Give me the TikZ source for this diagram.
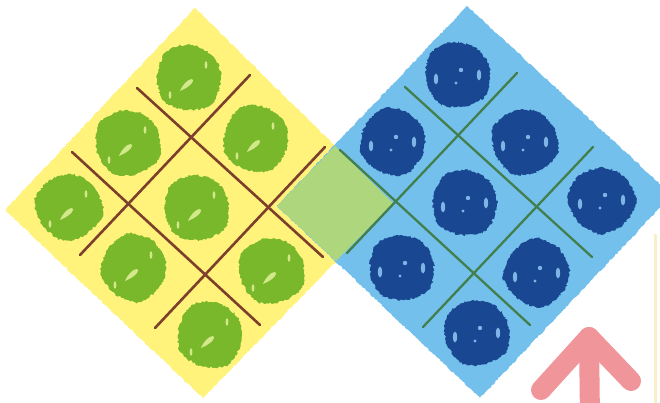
\documentclass[tikz,border=0pt]{standalone}
\usetikzlibrary{decorations.pathmorphing}
\definecolor{yel}{HTML}{FFF37C}
\definecolor{sky}{HTML}{72C0EB}
\definecolor{ovl}{HTML}{AED67C}
\definecolor{gblobc}{HTML}{78B82A}
\definecolor{bblobc}{HTML}{1A4791}
\definecolor{ghlc}{HTML}{D2E88A}
\definecolor{bhlc}{HTML}{7DB6E6}
\definecolor{brownline}{HTML}{7D3F2B}
\definecolor{greenline}{HTML}{437F4D}
\definecolor{pinkc}{HTML}{F0959A}
\definecolor{paley}{HTML}{F8F1C6}
\newcommand\myblob[4]{%
\begin{scope}[shift={(#1,#2)},rotate=#3]
\fill[#4,fuzzy] plot[smooth cycle] coordinates {(32,0)(24,-22)(2,-33)(-22,-27)(-32,-3)(-26,22)(-3,32)(23,26)};
\end{scope}}
\newcommand\ghl[2]{%
\begin{scope}[shift={(#1,#2)}]
\fill[ghlc] (-9,13) .. controls (-6,6) and (-1,1) .. (3,1) .. controls (6,2) and (3,8) .. cycle;
\fill[ghlc] (17,-13) ellipse (1.4 and 3.8);
\fill[ghlc] (-19,17) ellipse (1.4 and 3.8);
\end{scope}}
\newcommand\bhl[2]{%
\begin{scope}[shift={(#1,#2)}]
\fill[bhlc] (-22,4) ellipse (2.2 and 5.5);
\fill[bhlc] (21,0) ellipse (2.2 and 5.5);
\fill[bhlc] (3,-5) ellipse (2.2 and 2.2);
\fill[bhlc] (-2,8) ellipse (1.6 and 1.6);
\end{scope}}
\begin{document}
\begin{tikzpicture}[x=1pt,y=-1pt,
 rough/.style={decorate,decoration={random steps,segment length=2pt,amplitude=0.7pt}},
 fuzzy/.style={decorate,decoration={random steps,segment length=1.6pt,amplitude=1.1pt}},
 ygrid/.style={draw=brownline,line width=2.6pt,line cap=round},
 bgrid/.style={draw=greenline,line width=2.3pt,line cap=round},
 arrowstroke/.style={draw=pinkc,line width=20pt,line cap=round,line join=round}]
\pgfmathsetseed{7}
\useasboundingbox (0,0) rectangle (660,403);
\clip (0,0) rectangle (660,403);
% diamonds
\fill[yel,rough] (195,8) -- (393,203) -- (203,398) -- (5,210) -- cycle;
\fill[sky,rough] (467,6) -- (672,195) -- (480,398) -- (277,206) -- cycle;
\fill[ovl] (335,146) -- (393,203) -- (336,261) -- (277,206) -- cycle;
% yellow grid
\coordinate (ya1) at (250,75);  \coordinate (yb1) at (80,255);
\coordinate (ya2) at (325,147); \coordinate (yb2) at (155,328);
\coordinate (yc1) at (137,88);  \coordinate (yd1) at (323,257);
\coordinate (yc2) at (72,152);  \coordinate (yd2) at (260,325);
\draw[ygrid] (ya1) -- (yb1);
\draw[ygrid] (ya2) -- (yb2);
\draw[ygrid] (yc1) -- (yd1);
\draw[ygrid] (yc2) -- (yd2);
% blue grid
\coordinate (ba1) at (517,73);  \coordinate (bb1) at (347,253);
\coordinate (ba2) at (593,147); \coordinate (bb2) at (423,327);
\coordinate (bc1) at (405,87);  \coordinate (bd1) at (592,257);
\coordinate (bc2) at (340,150); \coordinate (bd2) at (530,325);
\draw[bgrid] (ba1) -- (bb1);
\draw[bgrid] (ba2) -- (bb2);
\draw[bgrid] (bc1) -- (bd1);
\draw[bgrid] (bc2) -- (bd2);
% green blobs
\myblob{189}{78}{0}{gblobc}   \ghl{189}{78}
\myblob{128}{143}{20}{gblobc} \ghl{128}{143}
\myblob{256}{139}{-15}{gblobc}\ghl{256}{139}
\myblob{69}{207}{40}{gblobc}  \ghl{69}{207}
\myblob{197}{208}{10}{gblobc} \ghl{197}{208}
\myblob{134}{268}{-30}{gblobc}\ghl{134}{268}
\myblob{272}{271}{25}{gblobc} \ghl{272}{271}
\myblob{210}{335}{-10}{gblobc}\ghl{210}{335}
% blue blobs
\myblob{458}{75}{15}{bblobc}  \bhl{458}{75}
\myblob{393}{142}{-20}{bblobc}\bhl{393}{142}
\myblob{525}{142}{30}{bblobc} \bhl{525}{142}
\myblob{465}{203}{-5}{bblobc} \bhl{465}{203}
\myblob{602}{200}{45}{bblobc} \bhl{602}{200}
\myblob{402}{268}{10}{bblobc} \bhl{402}{268}
\myblob{537}{273}{-35}{bblobc}\bhl{537}{273}
\myblob{477}{333}{20}{bblobc} \bhl{477}{333}
% pink arrow
\coordinate (tip) at (589,337);
\coordinate (armL) at (541,390);
\coordinate (armR) at (631,381);
\coordinate (stemEnd) at (590,420);
\draw[arrowstroke] (armL) -- (tip) -- (armR);
\draw[arrowstroke] (tip) -- (stemEnd);
% pale line at right edge
\coordinate (pl1) at (655,234);
\coordinate (pl2) at (655,410);
\draw[paley,line width=3pt] (pl1) -- (pl2);
\end{tikzpicture}
\end{document}
